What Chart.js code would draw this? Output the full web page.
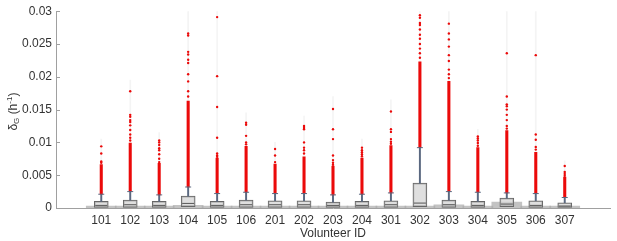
<!DOCTYPE html>
<html><head><meta charset="utf-8">
<script src="https://cdn.jsdelivr.net/npm/chart.js@4.4.0/dist/chart.umd.min.js"></script>
<style>html,body{margin:0;padding:0;background:#fff}#wrap{width:617px;height:241px}</style>
</head><body><div id="wrap"><canvas id="c"></canvas></div>
<script>
const categories = ['101','102','103','104','105','106','201','202','203','204','301','302','303','304','305','306','307'];
const q1       = [0.0001,0.0001,0.0001,0.0002,0.0001,0.0001,0.0001,0.0001,0.0001,0.0001,0.0001,0.0002,0.0001,0.0001,0.0002,0.0001,0.0001];
const medians  = [0.0004,0.0005,0.0004,0.0007,0.0004,0.0005,0.0005,0.0005,0.0004,0.0004,0.0005,0.00075,0.0005,0.0004,0.0006,0.0004,0.0003];
const q3       = [0.0010,0.0012,0.0010,0.0018,0.0010,0.0012,0.0011,0.0011,0.0009,0.0010,0.0011,0.0038,0.0012,0.0010,0.0015,0.0011,0.0008];
const whiskerHigh = [0.0021,0.0025,0.0020,0.0032,0.0022,0.0024,0.0022,0.0022,0.0020,0.0021,0.0023,0.0092,0.0025,0.0024,0.0023,0.0022,0.0016];
const denseTop = [0.0066,0.0099,0.0068,0.0163,0.0076,0.0094,0.0067,0.0078,0.0064,0.0076,0.0095,0.0223,0.0193,0.0092,0.0118,0.0085,0.0047];
const tailTop  = [0.0105,0.0195,0.0115,0.0300,0.0300,0.0145,0.0100,0.0140,0.0170,0.0105,0.0165,0.0300,0.0300,0.0120,0.0300,0.0300,0.0072];
const baseHeight = [0.0003,0.0003,0.0003,0.0004,0.0003,0.0003,0.0003,0.0003,0.0003,0.0003,0.0003,0.0003,0.0005,0.0003,0.0009,0.0003,0.0003];
const sparseOutliers = [
  [0.0094,0.0083,0.0071,0.0069],
  [0.0178,0.0142,0.0139,0.0134,0.0131,0.0126,0.0119,0.0112,0.0107,0.0103],
  [0.0103,0.0100,0.0096,0.0091,0.0088,0.0082,0.0075,0.0070],
  [0.0266,0.0263,0.0238,0.0234,0.0226,0.0221,0.0204,0.0193,0.0178,0.0170],
  [0.0291,0.0201,0.0154,0.0107,0.0083,0.0080,0.0078],
  [0.0130,0.0127,0.0110,0.0100,0.0097],
  [0.0090,0.0080,0.0070],
  [0.0125,0.0122,0.0120,0.0100,0.0092,0.0088,0.0083],
  [0.0151,0.0120,0.0105,0.0080,0.0073,0.0069,0.0066],
  [0.0092,0.0088,0.0085,0.0082,0.0079],
  [0.0147,0.0120,0.0116,0.0105,0.0101,0.0098],
  [0.0294,0.0290,0.0282,0.0279,0.0272,0.0264,0.0258,0.0250,0.0243,0.0236,0.0229],
  [0.0281,0.0266,0.0257,0.0246,0.0233,0.0224,0.0211,0.0204,0.0198],
  [0.0109,0.0106,0.0103,0.0099,0.0095],
  [0.0236,0.0170,0.0158,0.0155,0.0150,0.0142,0.0134,0.0125,0.0121],
  [0.0233,0.0112,0.0104,0.0093,0.0089],
  [0.0064,0.0055,0.0052,0.0049]
];
const yTicks = [0,0.005,0.01,0.015,0.02,0.025,0.03];
const yTickLabels = ['0','0.005','0.01','0.015','0.02','0.025','0.03'];
const xTitle = 'Volunteer ID';

const pos = categories.map((c,i)=>i+1);
const range = (lo,hi)=>pos.map((x,i)=>({x, y:[lo[i], hi[i]]}));
const FONT = "'Liberation Sans', Arial, sans-serif";
const RED = 'rgb(235,10,10)';

const outlierPts = [];
sparseOutliers.forEach((arr,i)=>arr.forEach(v=>outlierPts.push({x:pos[i], y:v})));

const barCommon = {type:'bar', grouped:false, borderSkipped:false};

const yTitlePlugin = {
  id:'yTitle',
  afterDraw(chart){
    const ctx = chart.ctx, a = chart.chartArea;
    ctx.save();
    ctx.translate(14, (a.top+a.bottom)/2 + 2);
    ctx.rotate(-Math.PI/2);
    ctx.fillStyle = '#333';
    ctx.textBaseline = 'middle';
    const parts = [['δ',12,0],['G',8,3],[' (h',12,0],['-1',8,-4],[')',12,0]];
    let w = 0;
    parts.forEach(p=>{ctx.font = p[1]+'px '+FONT; w += ctx.measureText(p[0]).width;});
    let x = -w/2;
    parts.forEach(p=>{ctx.font = p[1]+'px '+FONT; ctx.fillText(p[0], x, p[2]); x += ctx.measureText(p[0]).width;});
    ctx.restore();
  }
};
const inwardTicks = {
  id:'inwardTicks',
  afterDatasetsDraw(chart){
    const ctx = chart.ctx, y = chart.scales.y, a = chart.chartArea;
    ctx.save();
    ctx.strokeStyle = '#a0a0a0'; ctx.lineWidth = 1;
    yTicks.forEach(v=>{
      const py = Math.round(y.getPixelForValue(v))+0.5;
      ctx.beginPath(); ctx.moveTo(a.left, py); ctx.lineTo(a.left+4, py); ctx.stroke();
    });
    ctx.restore();
  }
};

new Chart(document.getElementById('c'), {
  type:'bar',
  data:{datasets:[
    Object.assign({}, barCommon, {label:'tail', data:range(whiskerHigh, tailTop), barThickness:1, backgroundColor:'rgba(200,200,200,0.2)', order:9}),
    Object.assign({}, barCommon, {label:'base', data:range(pos.map(()=>0), baseHeight), barThickness:30, backgroundColor:'rgba(170,170,170,0.7)', order:8}),
    Object.assign({}, barCommon, {label:'box', data:range(q1, q3), barThickness:14, backgroundColor:'rgba(210,210,210,0.7)', borderColor:'#666', borderWidth:1, order:7}),
    Object.assign({}, barCommon, {label:'whisker', data:range(q3, whiskerHigh), barThickness:1.3, backgroundColor:'#5a6880', order:6}),
    Object.assign({}, barCommon, {label:'dense', data:range(whiskerHigh, denseTop), barThickness:2.4, backgroundColor:RED, order:5}),
    {type:'scatter', label:'median', data:pos.map((x,i)=>({x,y:medians[i]})), pointStyle:'line', pointRadius:6, borderColor:'#555', borderWidth:1, order:4},
    {type:'scatter', label:'cap', data:pos.map((x,i)=>({x,y:whiskerHigh[i]})), pointStyle:'line', pointRadius:3, borderColor:'#5a6880', borderWidth:1, order:3},
    {type:'scatter', label:'outliers', data:outlierPts, pointRadius:1.2, pointBorderWidth:0, backgroundColor:RED, borderColor:RED, order:2}
  ]},
  options:{
    responsive:true, maintainAspectRatio:false, animation:false,
    layout:{padding:{top:9, right:3, left:0, bottom:0}},
    plugins:{legend:{display:false}, tooltip:{enabled:false}},
    scales:{
      x:{type:'linear', min:0, max:18,
        afterBuildTicks(s){ s.ticks = pos.map(v=>({value:v})); },
        afterFit(s){ s.height = 33; },
        grid:{display:false, drawTicks:false},
        border:{color:'#a0a0a0'},
        ticks:{callback:(v)=>categories[v-1] ?? '', color:'#333', font:{family:FONT, size:12}, padding:5, maxRotation:0, autoSkip:false},
        title:{display:true, text:xTitle, color:'#333', font:{family:FONT, size:12}, padding:{top:0,bottom:0}}
      },
      y:{min:0, max:0.03,
        afterBuildTicks(s){ s.ticks = yTicks.map(v=>({value:v})); },
        afterFit(s){ s.width = 56; },
        grid:{display:false, drawTicks:false},
        border:{color:'#a0a0a0'},
        ticks:{callback:(v,i)=>yTickLabels[i], color:'#333', font:{family:FONT, size:12}, padding:4}
      }
    }
  },
  plugins:[yTitlePlugin, inwardTicks]
});
</script></body></html>
